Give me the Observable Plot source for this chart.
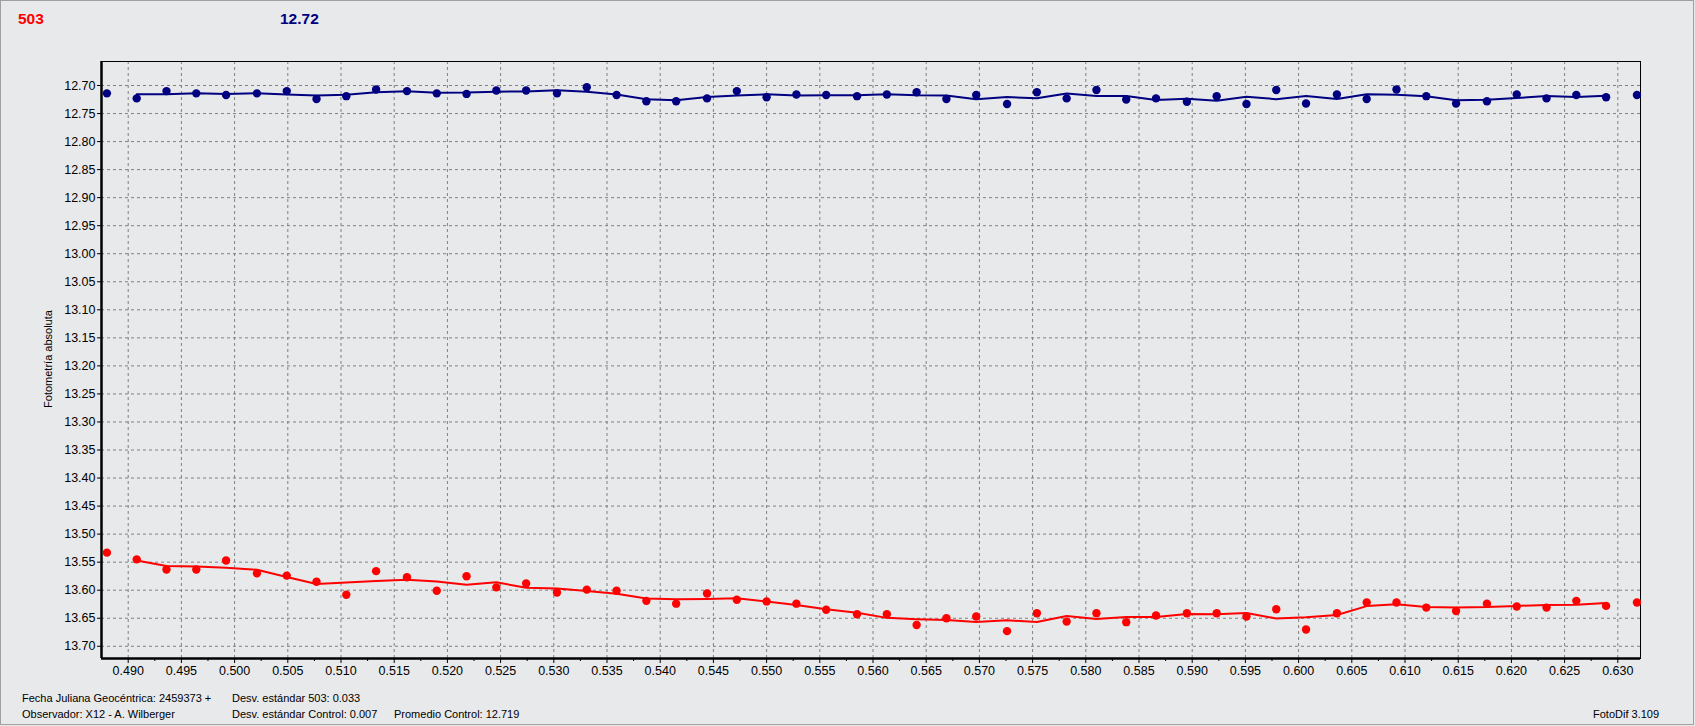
<!DOCTYPE html>
<html>
<head>
<meta charset="utf-8">
<script src="https://cdn.jsdelivr.net/npm/d3@7"></script>
<script src="https://cdn.jsdelivr.net/npm/@observablehq/plot@0.6"></script>
<style>
  html, body { margin: 0; padding: 0; background: #e8e9eb; }
  #page { position: relative; width: 1695px; height: 726px; overflow: hidden;
          font-family: "Liberation Sans", Arial, sans-serif; background: #e8e9eb; }
  #border { position: absolute; left: 0; top: 0; width: 1692px; height: 723px;
            border: 1px solid #a0a0a0; pointer-events: none; }
  .t { position: absolute; white-space: nowrap; line-height: 1; }
  #chart { position: absolute; left: 0; top: 0; }
</style>
</head>
<body>
<div id="page">
  <div id="chart"></div>
  <div class="t" style="left:18px;top:11px;font-size:15.5px;font-weight:bold;color:#ff0000;">503</div>
  <div class="t" style="left:280px;top:11px;font-size:15.5px;font-weight:bold;color:#000080;">12.72</div>
  <div class="t" style="left:48px;top:359px;font-size:11px;color:#000;transform:translate(-50%,-50%) rotate(-90deg);">Fotometría absoluta</div>
  <div class="t" style="left:22px;top:693px;font-size:11px;color:#000;">Fecha Juliana Geocéntrica: 2459373 +</div>
  <div class="t" style="left:22px;top:709px;font-size:11px;color:#000;">Observador: X12 - A. Wilberger</div>
  <div class="t" style="left:232px;top:693px;font-size:11px;color:#000;">Desv. estándar 503: 0.033</div>
  <div class="t" style="left:232px;top:709px;font-size:11px;color:#000;">Desv. estándar Control: 0.007</div>
  <div class="t" style="left:394px;top:709px;font-size:11px;color:#000;">Promedio Control: 12.719</div>
  <div class="t" style="left:1593px;top:709px;font-size:11px;color:#000;">FotoDif 3.109</div>
  <div id="border"></div>
</div>
<script>
// Julian date fractions (JD - 2459373)
const jd = [
  0.4880, 0.4908, 0.4936, 0.4964, 0.4992, 0.5021, 0.5049, 0.5077, 0.5105, 0.5133,
  0.5162, 0.5190, 0.5218, 0.5246, 0.5274, 0.5303, 0.5331, 0.5359, 0.5387, 0.5415,
  0.5444, 0.5472, 0.5500, 0.5528, 0.5556, 0.5585, 0.5613, 0.5641, 0.5669, 0.5697,
  0.5726, 0.5754, 0.5782, 0.5810, 0.5838, 0.5866, 0.5895, 0.5923, 0.5951, 0.5979,
  0.6007, 0.6036, 0.6064, 0.6092, 0.6120, 0.6148, 0.6177, 0.6205, 0.6233, 0.6261,
  0.6289, 0.6318
];
// Target star "503" (red)
const mag503 = [
  13.533, 13.545, 13.563, 13.563, 13.547, 13.570, 13.574, 13.585, 13.608, 13.566,
  13.577, 13.601, 13.575, 13.595, 13.588, 13.604, 13.599, 13.601, 13.619, 13.624,
  13.606, 13.617, 13.620, 13.624, 13.635, 13.643, 13.643, 13.662, 13.650, 13.647,
  13.673, 13.641, 13.656, 13.641, 13.657, 13.645, 13.641, 13.641, 13.647, 13.634,
  13.670, 13.641, 13.622, 13.622, 13.631, 13.637, 13.624, 13.629, 13.631, 13.619,
  13.628, 13.622
];
// Control star (navy)
const magControl = [
  12.714, 12.723, 12.710, 12.714, 12.717, 12.714, 12.710, 12.724, 12.719, 12.707,
  12.710, 12.714, 12.715, 12.709, 12.709, 12.714, 12.703, 12.717, 12.728, 12.728,
  12.723, 12.710, 12.721, 12.716, 12.717, 12.719, 12.716, 12.712, 12.724, 12.717,
  12.733, 12.712, 12.723, 12.708, 12.725, 12.723, 12.729, 12.719, 12.733, 12.708,
  12.732, 12.716, 12.724, 12.707, 12.719, 12.732, 12.728, 12.716, 12.723, 12.717,
  12.721, 12.717
];
const xTicks = [
  0.490, 0.495, 0.500, 0.505, 0.510, 0.515, 0.520, 0.525, 0.530, 0.535,
  0.540, 0.545, 0.550, 0.555, 0.560, 0.565, 0.570, 0.575, 0.580, 0.585,
  0.590, 0.595, 0.600, 0.605, 0.610, 0.615, 0.620, 0.625, 0.630
];
const yTicks = [
  12.70, 12.75, 12.80, 12.85, 12.90, 12.95, 13.00, 13.05, 13.10, 13.15,
  13.20, 13.25, 13.30, 13.35, 13.40, 13.45, 13.50, 13.55, 13.60, 13.65, 13.70
];
const xDomain = [0.487491, 0.632133];
const yDomain = [12.6572, 13.7218];

const rows503 = jd.map((x, i) => ({x, y: mag503[i]}));
const rowsCtl = jd.map((x, i) => ({x, y: magControl[i]}));
const xMinor = xTicks.slice(1).map((t, i) => (t + xTicks[i]) / 2);

const grid = {stroke: "#808080", strokeOpacity: 1, strokeDasharray: "3,3", strokeWidth: 1};

const chart = Plot.plot({
  width: 1695,
  height: 726,
  marginLeft: 101,
  marginTop: 61,
  marginRight: 55,
  marginBottom: 68,
  x: {domain: xDomain, label: null},
  y: {domain: yDomain, reverse: true, label: null},
  style: {background: "transparent", fontFamily: "'Liberation Sans', Arial, sans-serif", fontSize: "12.5px", color: "black"},
  marks: [
    Plot.ruleX(xTicks, grid),
    Plot.ruleY(yTicks, grid),
    Plot.frame({stroke: "black", strokeWidth: 1}),
    Plot.ruleX([xDomain[0]], {stroke: "black", strokeWidth: 2.5}),
    Plot.ruleY([yDomain[1]], {stroke: "black", strokeWidth: 2.5}),
    Plot.axisX({ticks: xTicks, tickFormat: d3.format(".3f"), tickSize: 5, tickPadding: 3, fontSize: 12.5, label: null}),
    Plot.axisX({ticks: xMinor, tickFormat: () => "", tickSize: 3, label: null}),
    Plot.axisY({ticks: yTicks, tickFormat: d3.format(".2f"), tickSize: 4, tickPadding: 2, fontSize: 12.5, label: null}),
    Plot.lineY(rowsCtl, Plot.windowY({k: 3, strict: true}, {x: "x", y: "y", stroke: "#000080", strokeWidth: 2})),
    Plot.lineY(rows503, Plot.windowY({k: 3, strict: true}, {x: "x", y: "y", stroke: "#ff0000", strokeWidth: 2})),
    Plot.dot(rowsCtl, {x: "x", y: "y", r: 4.2, fill: "#000080", stroke: "none"}),
    Plot.dot(rows503, {x: "x", y: "y", r: 4.2, fill: "#ff0000", stroke: "none"})
  ]
});
document.getElementById("chart").appendChild(chart);
</script>
</body>
</html>
